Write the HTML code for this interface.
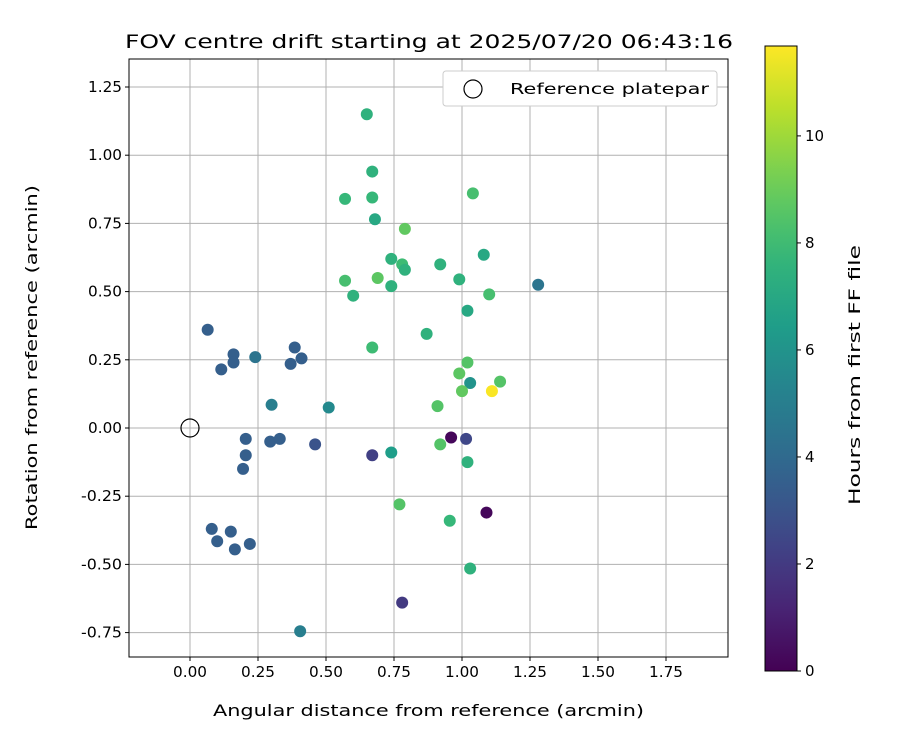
<!DOCTYPE html>
<html><head><meta charset="utf-8"><style>
body{margin:0;background:#fff;font-family:"Liberation Sans","DejaVu Sans",sans-serif;}
svg text{font-family:"DejaVu Sans","Liberation Sans",sans-serif;}
</style></head><body>
<svg id="c" width="900" height="750" viewBox="0 0 900 750" xmlns="http://www.w3.org/2000/svg"></svg>
<script>
const xVals=[0.65,0.67,0.57,0.67,1.04,0.68,0.79,0.74,0.78,0.79,0.57,0.69,0.92,0.99,1.08,0.60,0.74,1.10,1.28,1.02,0.87,0.67,0.065,0.16,0.16,0.115,0.24,0.385,0.41,0.37,1.02,0.99,1.14,1.03,1.00,1.11,0.30,0.51,0.91,0.205,0.295,0.33,0.46,0.96,1.015,0.92,0.205,0.195,0.67,0.74,1.02,0.77,0.955,1.09,0.08,0.15,0.10,0.165,0.22,1.03,0.78,0.405];
const yVals=[1.15,0.94,0.84,0.845,0.86,0.765,0.73,0.62,0.60,0.58,0.54,0.55,0.60,0.545,0.635,0.485,0.52,0.49,0.525,0.43,0.345,0.295,0.36,0.27,0.24,0.215,0.26,0.295,0.255,0.235,0.24,0.20,0.17,0.165,0.135,0.135,0.085,0.075,0.08,-0.04,-0.05,-0.04,-0.06,-0.035,-0.04,-0.06,-0.1,-0.15,-0.10,-0.09,-0.125,-0.28,-0.34,-0.31,-0.37,-0.38,-0.415,-0.445,-0.425,-0.515,-0.64,-0.745];
const hours=[7.5,7.5,7.8,7.8,8.2,7,8.8,7.5,8,7.5,8.2,8.7,7.5,7.5,7,7.5,7.5,8.2,4.5,7,7.5,8,3.5,3.5,3.5,3.5,4.5,3.5,3.5,3.5,8.5,8.7,8.5,6,8.8,11.6,5,5.5,8.5,3.5,3.5,3.5,3,0.2,2.5,8.5,3.5,3.5,2.2,6.5,7.5,8.5,7.8,0.2,3.5,3.5,3.5,3.5,3.5,7.5,2,5];
const xTicks=[0,0.25,0.5,0.75,1.0,1.25,1.5,1.75];
const yTicks=[-0.75,-0.5,-0.25,0,0.25,0.5,0.75,1.0,1.25];
const cTicks=[0,2,4,6,8,10];
const hMax=11.68;
const NS="http://www.w3.org/2000/svg",svg=document.getElementById('c');
const L=129,R=728,T=59,B=657;
const X=v=>190+v*272, Y=v=>428-v*272.8;
const CY=v=>671-v*(625/hMax);
const vir=[[68,1,84],[72,40,120],[62,74,137],[49,104,142],[38,130,142],[31,158,137],[53,183,121],[109,205,89],[180,222,44],[253,231,37]];
function col(t){t=Math.max(0,Math.min(1,t))*9;const i=Math.min(8,Math.floor(t)),f=t-i;const a=vir[i],b=vir[i+1];return `rgb(${a.map((c,k)=>Math.round(c+(b[k]-c)*f)).join(',')})`;}
function el(t,a,p){const e=document.createElementNS(NS,t);for(const k in a)e.setAttribute(k,a[k]);(p||svg).appendChild(e);return e;}
xTicks.forEach(v=>{const x=X(v);
const g=el('line',{x1:x,x2:x,y1:T,y2:B,stroke:'#b0b0b0','stroke-width':1});


el('line',{x1:x,x2:x,y1:B,y2:B+4,stroke:'#000'});
const t=el('text',{x:x,y:B+20,'text-anchor':'middle','font-size':15,textLength:34,lengthAdjust:'spacingAndGlyphs'});t.textContent=v.toFixed(2);

});
yTicks.forEach(v=>{const y=Y(v);
const g=el('line',{x1:L,x2:R,y1:y,y2:y,stroke:'#b0b0b0','stroke-width':1});


el('line',{x1:L-4,x2:L,y1:y,y2:y,stroke:'#000'});
const w=v<0?41:34;
const t=el('text',{x:L-7,y:y+5,'text-anchor':'end','font-size':15,textLength:w,lengthAdjust:'spacingAndGlyphs'});t.textContent=v.toFixed(2);

});
const rc=el('circle',{cx:X(0),cy:Y(0),r:9,fill:'none',stroke:'#000','stroke-width':1.2});


xVals.forEach((x,i)=>{const c=el('circle',{cx:X(x),cy:Y(yVals[i]),r:6,fill:col(hours[i]/hMax)});

});
const fr=el('rect',{x:L,y:T,width:R-L,height:B-T,fill:'none',stroke:'#000','stroke-width':1});


const lg=el('g',{});
el('rect',{x:443,y:71,width:274,height:35,rx:3,fill:'#fff',stroke:'#ccc'},lg);
el('circle',{cx:473,cy:89,r:9,fill:'none',stroke:'#000','stroke-width':1.2},lg);
const lt=el('text',{x:510,y:94,'font-size':15,textLength:199,lengthAdjust:'spacingAndGlyphs'},lg);lt.textContent='Reference platepar';
const tt=el('text',{x:125,y:48,'font-size':19,textLength:608,lengthAdjust:'spacingAndGlyphs'});tt.textContent='FOV centre drift starting at 2025/07/20 06:43:16';

const xt=el('text',{x:213,y:716,'font-size':16,textLength:431,lengthAdjust:'spacingAndGlyphs'});xt.textContent='Angular distance from reference (arcmin)';

const yt=el('text',{x:0,y:0,'font-size':16,textLength:345,lengthAdjust:'spacingAndGlyphs',transform:'translate(37 530) rotate(-90)'});yt.textContent='Rotation from reference (arcmin)';

const defs=el('defs',{});const gr=el('linearGradient',{id:'vg',x1:0,y1:1,x2:0,y2:0},defs);
for(let i=0;i<=20;i++)el('stop',{offset:i/20,'stop-color':col(i/20)},gr);
const cb=el('rect',{x:765,y:46,width:32,height:625,fill:'url(#vg)',stroke:'#000','stroke-width':1});

cTicks.forEach(v=>{const y=CY(v);el('line',{x1:797,x2:801,y1:y,y2:y,stroke:'#000'});
const t=el('text',{x:805,y:y+5,'font-size':15});t.textContent=v;
});
const ct=el('text',{x:0,y:0,'font-size':16,textLength:260,lengthAdjust:'spacingAndGlyphs',transform:'translate(860 505) rotate(-90)'});ct.textContent='Hours from first FF file';

</script>
</body></html>
